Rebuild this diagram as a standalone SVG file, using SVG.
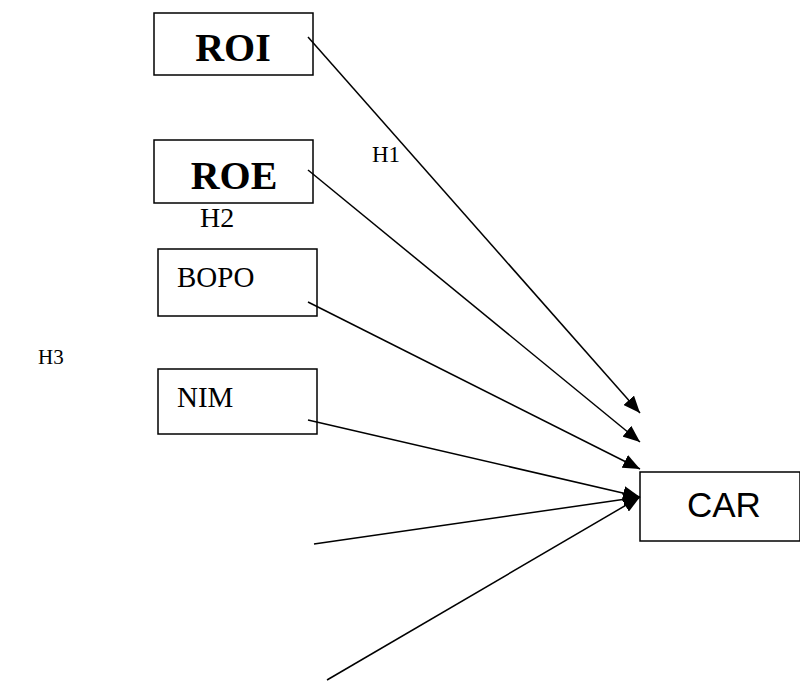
<svg xmlns="http://www.w3.org/2000/svg" width="800" height="681" viewBox="0 0 800 681">
<style>
.box{fill:#fff;stroke:#000;stroke-width:1.5}
.ser{font-family:"Liberation Serif",serif;fill:#000}
.big{font-size:40px;font-weight:bold}
.med{font-size:29px}
.sans{font-family:"Liberation Sans",sans-serif;font-size:35px;fill:#000}
.con{stroke:#000;stroke-width:1.5;fill:none;marker-end:url(#ah)}
</style>
<defs>
<marker id="ah" markerUnits="userSpaceOnUse" markerWidth="18" markerHeight="14" refX="17" refY="7" orient="auto">
<path d="M0,0 L17,7 L0,14 Z" fill="#000"/>
</marker>
</defs>
<rect width="800" height="681" fill="#fff"/>
<g id="ROI"><rect class="box" x="154" y="13" width="159" height="62"/><text class="ser big" x="233" y="61" text-anchor="middle">ROI</text></g>
<g id="ROE"><rect class="box" x="154" y="140" width="159" height="63"/><text class="ser big" x="234" y="189" text-anchor="middle">ROE</text></g>
<g id="BOPO"><rect class="box" x="158" y="249" width="159" height="67"/><text class="ser med" x="177" y="287">BOPO</text></g>
<g id="NIM"><rect class="box" x="158" y="369" width="159" height="65"/><text class="ser med" x="177" y="407">NIM</text></g>
<g id="CAR"><rect class="box" x="640" y="472" width="160" height="69"/><text class="sans" x="687" y="517">CAR</text></g>
<g id="labels">
<text class="ser" font-size="23" x="372" y="162">H1</text>
<text class="ser" font-size="28" x="200" y="227">H2</text>
<text class="ser" font-size="21" x="38" y="364">H3</text>
</g>
<g id="connectors">
<line class="con" x1="308" y1="37" x2="640" y2="413"/>
<line class="con" x1="308" y1="170" x2="640" y2="442"/>
<line class="con" x1="308" y1="302" x2="640" y2="469"/>
<line class="con" x1="308" y1="420" x2="640" y2="497"/>
<line class="con" x1="314" y1="544" x2="640" y2="497"/>
<line class="con" x1="327" y1="680" x2="640" y2="497"/>
</g>
</svg>
